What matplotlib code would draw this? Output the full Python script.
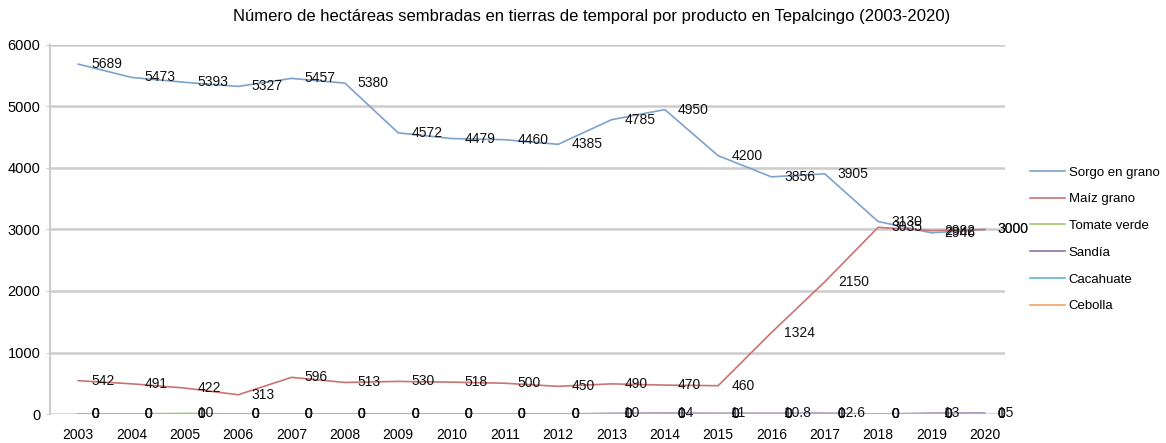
import numpy as np
import matplotlib.pyplot as plt

plt.rcParams['font.family'] = ['Liberation Sans', 'DejaVu Sans']

years = list(range(2003, 2021))

sorgo = [5689, 5473, 5393, 5327, 5457, 5380, 4572, 4479, 4460, 4385,
         4785, 4950, 4200, 3856, 3905, 3130, 2946, 3000]
maiz = [542, 491, 422, 313, 596, 513, 530, 518, 500, 450,
        490, 470, 460, 1324, 2150, 3035, 2982, 3000]
tomate = [0, 0, 10, 0, 0, 0, 0, 0, 0, 0,
          0, 0, 0, 0, 0, 0, 0, 0]
sandia = [0, 0, 0, 0, 0, 0, 0, 0, 0, 0,
          10, 14, 11, 10.8, 12.6, 0, 13, 15]
cacahuate = [0, 0, 0, 0, 0, 0, 0, 0, 0, 0,
             0, 0, 0, 0, 0, 0, 0, 0]
cebolla = [0, 0, 0, 0, 0, 0, 0, 0, 0, 0,
           0, 0, 0, 0, 0, 0, 0, 0]

series = [
    ("Sorgo en grano", sorgo, "#7da2cc"),
    ("Maíz grano", maiz, "#c97472"),
    ("Tomate verde", tomate, "#a5c46e"),
    ("Sandía", sandia, "#8d76ab"),
    ("Cacahuate", cacahuate, "#62b6cc"),
    ("Cebolla", cebolla, "#f3a468"),
]

fig = plt.figure(figsize=(11.66, 4.43), dpi=100)
ax = fig.add_axes([50 / 1166, 1 - 414 / 443, (1005 - 50) / 1166, (414 - 45) / 443])

for name, vals, col in series:
    ax.plot(years, vals, color=col, lw=1.2, label=name, zorder=3)

# etiquetas de datos a la derecha de cada punto
for name, vals, col in series:
    for x, v in zip(years, vals):
        ax.annotate(f"{v:g}", (x, v), xytext=(13, 0), textcoords='offset pixels',
                    ha='left', va='center', fontsize=10, color='#111111', zorder=5)

ax.set_xlim(2002.47, 2020.38)
ax.set_ylim(0, 6000)
ax.set_yticks(range(0, 6001, 1000))
ax.set_xticks(years)
ax.set_xticklabels([str(y) for y in years])
ax.yaxis.grid(True, color='#cccccc', lw=1.8, zorder=0)
ax.set_axisbelow(True)
for s in ['top', 'right', 'bottom']:
    ax.spines[s].set_visible(False)
ax.spines['left'].set_color('#cccccc')
ax.spines['left'].set_linewidth(1.5)
ax.tick_params(axis='y', length=3, color='#cccccc', labelsize=10.5, pad=4)
ax.tick_params(axis='x', length=0, labelsize=10, pad=10)

ax.set_title("Número de hectáreas sembradas en tierras de temporal por producto en Tepalcingo (2003-2020)",
             fontsize=12, x=0.567, y=1.0, pad=17)

ax.legend(loc='upper left', bbox_to_anchor=(1025 / 1166, 1 - 161 / 443),
          bbox_transform=fig.transFigure, frameon=False, fontsize=9.5,
          handlelength=2.6, handletextpad=0.3, labelspacing=1.1, borderaxespad=0)

fig.savefig("out.png", dpi=100)
